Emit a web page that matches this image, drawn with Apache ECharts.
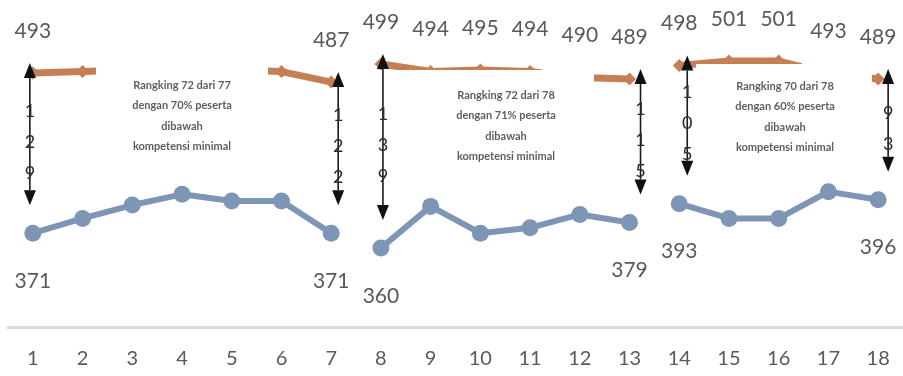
<!DOCTYPE html>
<html>
<head>
<meta charset="utf-8">
<script src="https://cdn.jsdelivr.net/npm/echarts@6/dist/echarts.min.js"></script>
<style>
  html, body { margin: 0; padding: 0; background: #ffffff; }
  #chart { width: 903px; height: 376px; }
</style>
</head>
<body>
<div id="chart"></div>
<script>
// Categories along the horizontal axis
const categories = ['1','2','3','4','5','6','7','8','9','10','11','12','13','14','15','16','17','18'];

// Upper (orange) and lower (blue) scores per category
const upperScores = [493, 494, 495, 496, 495, 494, 487, 499, 494, 495, 494, 490, 489, 498, 501, 501, 493, 489];
const lowerScores = [371, 382, 392, 400, 395, 395, 371, 360, 391, 371, 375, 385, 379, 393, 382, 382, 402, 396];

// Index ranges drawn as separate, unconnected groups
const groupRanges = [[0, 6], [7, 12], [13, 17]];

// Which points carry a value label
const upperLabelIdx = [0, 6, 7, 8, 9, 10, 11, 12, 13, 14, 15, 16, 17];
const lowerLabelIdx = [0, 6, 7, 12, 13, 17];

// Gap arrows: category index and the digits written along them
const gapIdx = [0, 6, 7, 12, 13, 17];
const gapText = ['129', '122', '139', '115', '105', '93'];

// Note boxes, one per group
const noteTexts = [
  'Rangking 72 dari 77\ndengan 70% peserta\ndibawah\nkompetensi minimal',
  'Rangking 72 dari 78\ndengan 71% peserta\ndibawah\nkompetensi minimal',
  'Rangking 70 dari 78\ndengan 60% peserta\ndibawah\nkompetensi minimal'
];

const FONT = "Lato, 'Open Sans', 'Liberation Sans', sans-serif";
const ORANGE = '#c47f55';
const BLUE = '#7e96b6';
const LABEL = '#595959';

function groupData(values, range, labelIdx) {
  return values.map((v, i) => {
    if (i < range[0] || i > range[1]) return '-';
    return labelIdx.indexOf(i) >= 0 ? { value: v, label: { show: true } } : v;
  });
}

const series = [];
groupRanges.forEach((r) => {
  series.push({
    type: 'line',
    yAxisIndex: 1,
    data: groupData(upperScores, r, upperLabelIdx),
    lineStyle: { color: ORANGE, width: 7 },
    itemStyle: { color: ORANGE },
    symbol: 'diamond',
    symbolSize: 13,
    z: 2,
    label: { show: false, position: 'top', distance: 25, color: LABEL, fontSize: 21, fontFamily: FONT },
    silent: true,
    animation: false
  });
  series.push({
    type: 'line',
    yAxisIndex: 0,
    data: groupData(lowerScores, r, lowerLabelIdx),
    lineStyle: { color: BLUE, width: 6 },
    itemStyle: { color: BLUE },
    symbol: 'circle',
    symbolSize: 17,
    z: 2,
    label: { show: false, position: 'bottom', distance: 29, color: LABEL, fontSize: 21, fontFamily: FONT },
    silent: true,
    animation: false
  });
});

const chart = echarts.init(document.getElementById('chart'));
chart.setOption({
  animation: false,
  backgroundColor: '#ffffff',
  grid: { left: 8, top: 0, width: 902, height: 327 },
  xAxis: {
    type: 'category',
    data: categories,
    boundaryGap: true,
    axisLine: { lineStyle: { color: '#d9d9d9', width: 3 } },
    axisTick: { show: false },
    axisLabel: { color: LABEL, fontSize: 20, fontFamily: FONT, margin: 22, interval: 0 }
  },
  yAxis: [
    { type: 'value', min: 301, max: 545, show: false, splitLine: { show: false } },
    { type: 'value', min: 323.7, max: 541.7, show: false, splitLine: { show: false } }
  ],
  series: series
});

// Overlay: white note boxes (covering parts of the upper line), notes, and gap arrows
const px = (axis, i, v) => chart.convertToPixel({ xAxisIndex: 0, yAxisIndex: axis }, [i, v]);

const coverRects = [
  [96, 50, 172, 115],
  [398, 70, 144, 100], [542, 58, 52, 112],
  [696, 64, 106, 106], [802, 50, 70, 120]
];
const noteCenters = [[182, 116], [506, 126], [785, 117]];
const gapDx = [-3, 7, 2, 11, 8, 10];

const graphics = [];
coverRects.forEach((r) => {
  graphics.push({
    type: 'rect', z: 10, silent: true,
    shape: { x: r[0], y: r[1], width: r[2], height: r[3] },
    style: { fill: '#ffffff' }
  });
});
noteTexts.forEach((t, k) => {
  graphics.push({
    type: 'text', z: 11, silent: true,
    x: noteCenters[k][0], y: noteCenters[k][1],
    style: {
      text: t, fill: '#5e5e5e', font: 'bold 11px ' + FONT,
      align: 'center', verticalAlign: 'middle', lineHeight: 20.5
    }
  });
});
gapIdx.forEach((i, k) => {
  const top = px(1, i, upperScores[i]);
  const bot = px(0, i, lowerScores[i]);
  const x = top[0] + gapDx[k];
  const y1 = top[1] - 10;
  const y2 = bot[1] - 28;
  const hh = 15, hw = 6;
  graphics.push({
    type: 'line', z: 12, silent: true,
    shape: { x1: x, y1: y1 + hh, x2: x, y2: y2 - hh },
    style: { stroke: '#1a1a1a', lineWidth: 1.6 }
  });
  graphics.push({
    type: 'polygon', z: 12, silent: true,
    shape: { points: [[x, y1], [x - hw, y1 + hh], [x + hw, y1 + hh]] },
    style: { fill: '#111111' }
  });
  graphics.push({
    type: 'polygon', z: 12, silent: true,
    shape: { points: [[x, y2], [x - hw, y2 - hh], [x + hw, y2 - hh]] },
    style: { fill: '#111111' }
  });
  graphics.push({
    type: 'text', z: 13, silent: true,
    x: x, y: (y1 + y2) / 2 + 8,
    style: {
      text: gapText[k].split('').join('\n'), fill: '#2b2b2b', font: '18px ' + FONT,
      align: 'center', verticalAlign: 'middle', lineHeight: 31
    }
  });
});
chart.setOption({ graphic: graphics });
</script>
</body>
</html>
